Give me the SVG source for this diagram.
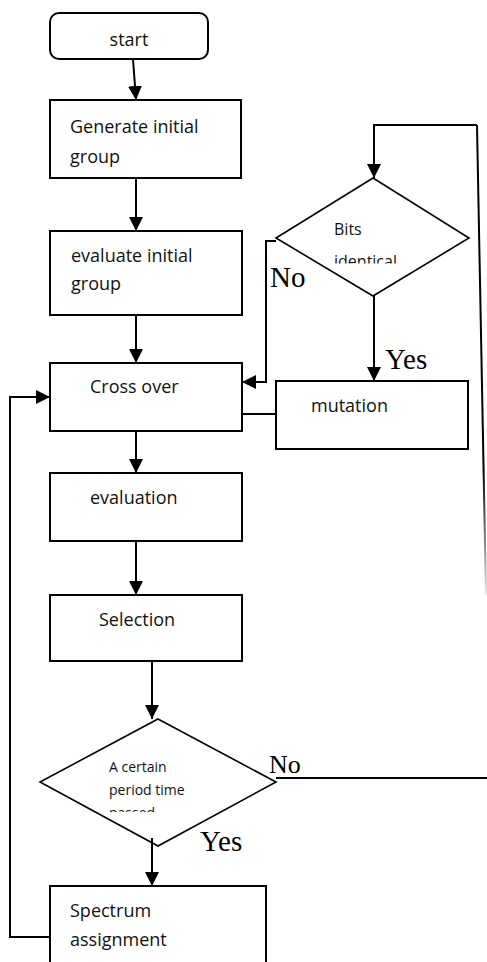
<svg xmlns="http://www.w3.org/2000/svg" width="487" height="962" viewBox="0 0 487 962">
<style>
.box{fill:#fff;stroke:#000;stroke-width:2}
.dia{fill:#fff;stroke:#000;stroke-width:1.6}
.t{font-family:"Open Sans","Liberation Sans",sans-serif;font-size:18px;fill:#111}
.ts{font-family:"Open Sans","Liberation Sans",sans-serif;fill:#111}
.lbl{font-family:"Liberation Serif","Times New Roman",serif;fill:#000}
.c{fill:none;stroke:#000;stroke-width:2}
</style>
<defs>
<marker id="ah" markerWidth="14" markerHeight="14" refX="14" refY="7" orient="auto" markerUnits="userSpaceOnUse">
<path d="M0,0 L14,7 L0,14 Z" fill="#000"/>
</marker>
<linearGradient id="fade" gradientUnits="userSpaceOnUse" x1="0" y1="470" x2="0" y2="595">
<stop offset="0" stop-color="#000" stop-opacity="1"/>
<stop offset="1" stop-color="#000" stop-opacity="0.1"/>
</linearGradient>
<clipPath id="clipBits"><rect x="300" y="215" width="120" height="48.5"/></clipPath>
<clipPath id="clipTime"><rect x="90" y="750" width="150" height="62"/></clipPath>
</defs>

<g id="connectors">
<line class="c" x1="133" y1="59" x2="136" y2="100" marker-end="url(#ah)"/>
<line class="c" x1="136" y1="178" x2="136" y2="231" marker-end="url(#ah)"/>
<line class="c" x1="136" y1="315" x2="136" y2="363" marker-end="url(#ah)"/>
<line class="c" x1="136" y1="431" x2="136" y2="473" marker-end="url(#ah)"/>
<line class="c" x1="136" y1="541" x2="136" y2="595" marker-end="url(#ah)"/>
<line class="c" x1="152" y1="661" x2="152" y2="719" marker-end="url(#ah)"/>
<polyline class="c" points="50,937 10,937 10,397 50,397" marker-end="url(#ah)"/>
<line class="c" x1="276" y1="778" x2="487" y2="778"/>
<line x1="477" y1="125" x2="486" y2="595" stroke="url(#fade)" stroke-width="2"/>
<polyline class="c" points="477,125 374,125 374,178" marker-end="url(#ah)"/>
<polyline class="c" points="276,241 266,241 266,382 242,382" marker-end="url(#ah)"/>
<line class="c" x1="374" y1="296" x2="374" y2="381" marker-end="url(#ah)"/>
<line class="c" x1="276" y1="414" x2="242" y2="414"/>
</g>

<g id="start">
<rect class="box" x="50" y="13" width="158" height="46" rx="9"/>
<text class="t" x="129" y="46" text-anchor="middle">start</text>
</g>

<g id="generate">
<rect class="box" x="50" y="100" width="191" height="78"/>
<text class="t" x="70" y="133">Generate initial</text>
<text class="t" x="70" y="163">group</text>
</g>

<g id="evaluate-initial">
<rect class="box" x="50" y="231" width="192" height="84"/>
<text class="t" x="71" y="262">evaluate initial</text>
<text class="t" x="71" y="290">group</text>
</g>

<g id="bits">
<polygon class="dia" points="373,178 469,238 373,296 276,238"/>
<g clip-path="url(#clipBits)">
<text class="ts" x="334" y="235" font-size="16">Bits</text>
<text class="ts" x="334" y="267" font-size="16">identical</text>
</g>
</g>

<g id="crossover">
<rect class="box" x="50" y="363" width="192" height="68"/>
<text class="t" x="90" y="393">Cross over</text>
</g>

<g id="mutation">
<rect class="box" x="276" y="381" width="192" height="68"/>
<text class="t" x="311" y="412">mutation</text>
</g>

<g id="evaluation">
<rect class="box" x="50" y="473" width="192" height="68"/>
<text class="t" x="90" y="504">evaluation</text>
</g>

<g id="selection">
<rect class="box" x="50" y="595" width="192" height="66"/>
<text class="t" x="99" y="626">Selection</text>
</g>

<g id="period">
<polygon class="dia" points="158,719 276,782 158,846 40,782"/>
<g clip-path="url(#clipTime)">
<text class="ts" x="109" y="772" font-size="14">A certain</text>
<text class="ts" x="109" y="795" font-size="14">period time</text>
<text class="ts" x="109" y="818" font-size="14">passed</text>
</g>
</g>

<line class="c" x1="152" y1="838" x2="152" y2="886" marker-end="url(#ah)"/>

<g id="spectrum">
<path class="box" d="M50,964 L50,886 L266,886 L266,964"/>
<text class="t" x="70" y="917">Spectrum</text>
<text class="t" x="70" y="946">assignment</text>
</g>

<g id="labels">
<text class="lbl" x="270" y="287" font-size="29">No</text>
<text class="lbl" x="385" y="369" font-size="29">Yes</text>
<text class="lbl" x="269" y="773" font-size="26">No</text>
<text class="lbl" x="200" y="851" font-size="29">Yes</text>
</g>
</svg>
